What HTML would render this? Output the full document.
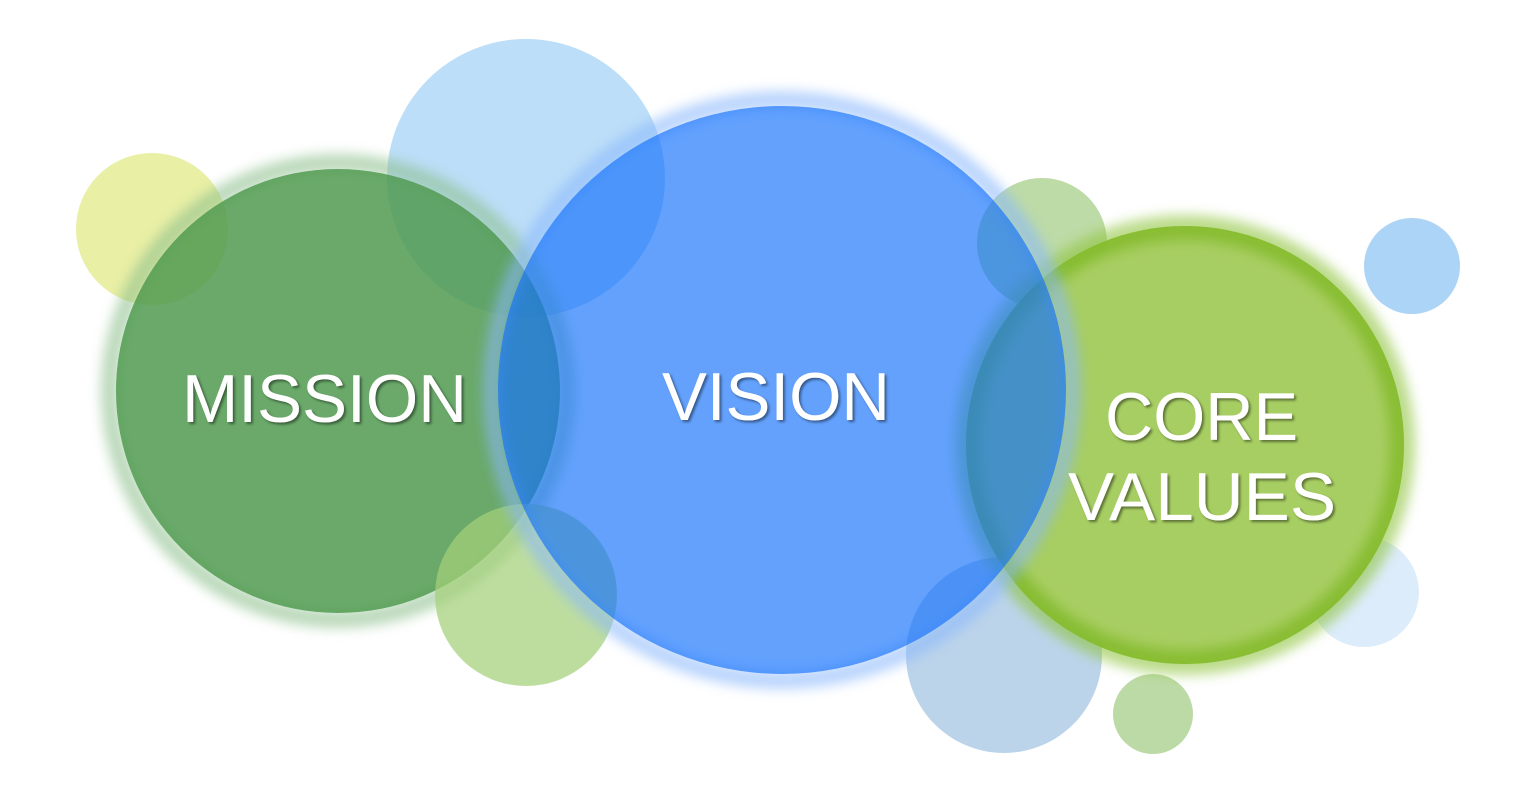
<!DOCTYPE html>
<html><head><meta charset="utf-8"><style>
html,body{margin:0;padding:0;background:#fff;width:1536px;height:792px;overflow:hidden}
text{font-family:"Liberation Sans",Arial,sans-serif;fill:#fff;font-size:68px}
</style></head><body>
<svg width="1536" height="792" viewBox="0 0 1536 792" xmlns="http://www.w3.org/2000/svg">
<defs>
<filter id="b" x="-20%" y="-20%" width="140%" height="140%"><feGaussianBlur stdDeviation="6"/></filter>
<filter id="ts" x="-10%" y="-10%" width="120%" height="130%"><feDropShadow dx="2" dy="2" stdDeviation="1.2" flood-color="#000" flood-opacity="0.45"/></filter>
</defs>
<circle cx="152" cy="229" r="76" fill="#e9efa5"/>
<circle cx="526" cy="178" r="139" fill="#bcdef8"/>
<circle cx="1004" cy="655" r="98" fill="#bcd4ea"/>
<circle cx="1042" cy="243" r="65" fill="#bddba7"/>
<circle cx="1364" cy="592" r="55" fill="#ddecfb"/>
<circle cx="1153" cy="714" r="40" fill="#bcdaa6"/>
<circle cx="1412" cy="266" r="48" fill="#acd4f6"/>
<!-- core values -->
<circle cx="1185" cy="445" r="230" fill="#8fc43e" opacity="0.6" filter="url(#b)"/>
<circle cx="1185" cy="445" r="219" fill="#86bc2e" opacity="0.95"/>
<circle cx="1185" cy="445" r="205" fill="#a7ce62" filter="url(#b)"/>
<!-- mission -->
<circle cx="338" cy="391" r="228" fill="none" stroke="#8cbf8c" stroke-width="18" opacity="0.6" filter="url(#b)"/>
<circle cx="338" cy="391" r="222" fill="rgb(80,154,80)" opacity="0.85"/>
<circle cx="526" cy="595" r="91" fill="#a3d07a" opacity="0.72"/>
<!-- vision -->
<circle cx="782" cy="390" r="290" fill="none" stroke="#8ab8fc" stroke-width="18" opacity="0.6" filter="url(#b)"/>
<circle cx="782" cy="390" r="284" fill="rgb(18,112,252)" opacity="0.66"/>
<g filter="url(#ts)">
<text x="182" y="422" textLength="285" lengthAdjust="spacingAndGlyphs">MISSION</text>
<text x="662" y="420" textLength="228" lengthAdjust="spacingAndGlyphs">VISION</text>
<text x="1105" y="440" textLength="193" lengthAdjust="spacingAndGlyphs">CORE</text>
<text x="1068" y="520" textLength="268" lengthAdjust="spacingAndGlyphs">VALUES</text>
</g>
</svg>
</body></html>
